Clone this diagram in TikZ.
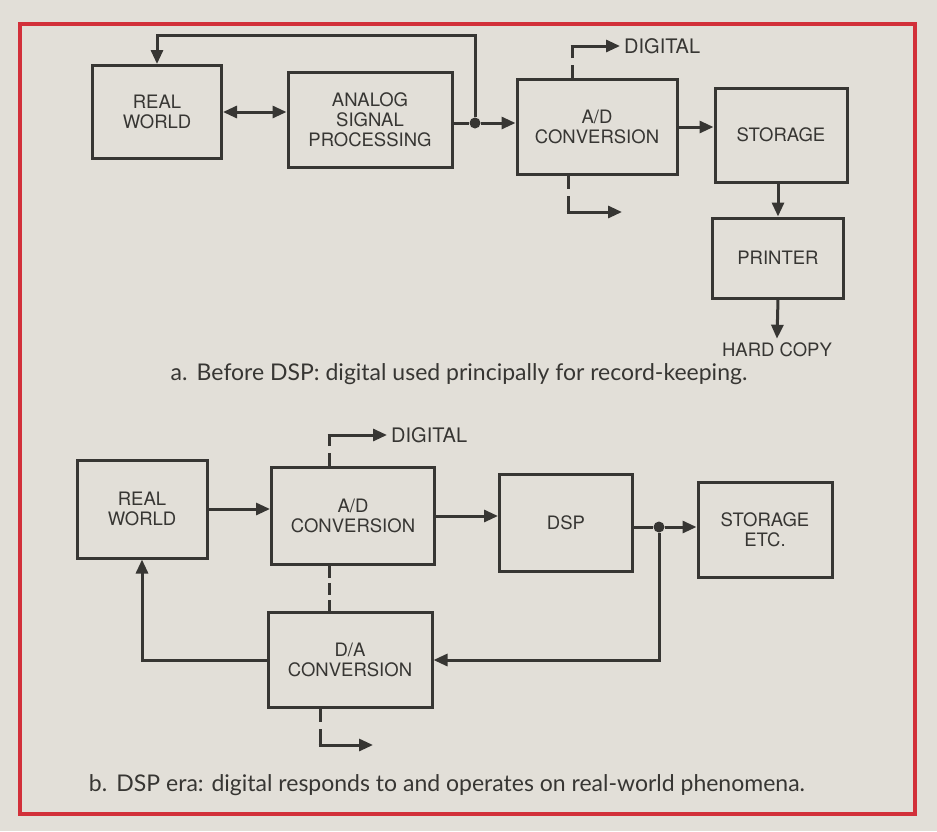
\documentclass[tikz,border=0pt]{standalone}
\usepackage{fontspec}
\setmainfont{TeX Gyre Heros}
\newfontfamily\capfont{Lato}
\usetikzlibrary{arrows.meta}
\definecolor{paper}{RGB}{226,223,216}
\definecolor{ink}{RGB}{55,54,51}
\definecolor{frame}{RGB}{210,48,58}
\tikzset{
    blk/.style={draw=ink, line width=3pt, text=ink, align=center, inner sep=0pt,
        font=\fontsize{18.5}{20}\selectfont},
    lbl/.style={text=ink, inner sep=4pt, font=\fontsize{18.5}{20}\selectfont},
    wire/.style={draw=ink, line width=3pt},
    arr/.style={wire, -{Triangle[length=14pt,width=12pt]}},
    brk/.style={wire, dash pattern=on 13pt off 7pt on 100pt off 1pt},
    link/.style={wire, dash pattern=on 12pt off 5pt},
    jdot/.style={circle, fill=ink, inner sep=0pt, minimum size=11pt},
    captxt/.style={text=ink, inner sep=0pt, font=\capfont\fontsize{23}{26}\selectfont}
}
\begin{document}
\begin{tikzpicture}[x=1pt, y=-1pt]
    \fill[paper] (0,0) rectangle (937,831);
    \useasboundingbox (0,0) rectangle (937,831);
    \draw[frame, line width=3.5pt] (20,24) rectangle (915,814);

    \node[blk, minimum width=129pt, minimum height=93pt] (world0) at (157,112) {REAL\\WORLD};
    \node[blk, minimum width=164pt, minimum height=95pt] (analog0) at (370,120) {ANALOG\\SIGNAL\\PROCESSING};
    \node[blk, minimum width=160pt, minimum height=95pt] (ad0) at (597,127) {A/D\\CONVERSION};
    \node[blk, minimum width=132pt, minimum height=94pt] (store0) at (781,135) {STORAGE};
    \node[blk, minimum width=131pt, minimum height=80pt] (print0) at (778,258) {PRINTER};
    \node[lbl] (copy0) at (777,350) {HARD COPY};
    \node[lbl, anchor=west, font=\fontsize{20}{22}\selectfont] (digit0) at (620,46) {DIGITAL};
    \node[jdot] (join0) at (475,123) {};
    \coordinate (up0) at (572,46);
    \coordinate (down0) at (568,212);
    \coordinate (out0) at (622,212);

    \draw[wire, {Triangle[length=14pt,width=12pt]}-{Triangle[length=14pt,width=12pt]}]
        (world0.east) -- (world0.east -| analog0.west);
    \draw[wire] (analog0.east |- join0) -- (join0);
    \draw[arr] (join0) -- (join0 -| ad0.west);
    \draw[arr] (join0) -- ++(0,-88) -| (world0.north);
    \draw[arr] (ad0.east) -- (ad0.east -| store0.west);
    \draw[arr] (store0.south -| print0.north) -- (print0.north);
    \draw[arr] (print0.south) -- (copy0.north);
    \draw[brk] (ad0.north -| up0) -- (up0);
    \draw[arr, shorten <=-1.5pt] (up0) -- (digit0.west);
    \draw[brk] (ad0.south -| down0) -- (down0);
    \draw[arr, shorten <=-1.5pt] (down0) -- (out0);

    \node[captxt, anchor=base] (title0) at (459,380)
        {a.\hspace{0.4em}Before DSP: digital used principally for record-keeping.};

    \node[blk, minimum width=130pt, minimum height=98pt] (world1) at (142,509) {REAL\\WORLD};
    \node[blk, minimum width=163pt, minimum height=97pt] (ad1) at (353,516) {A/D\\CONVERSION};
    \node[blk, minimum width=164pt, minimum height=95pt] (da1) at (350,660) {D/A\\CONVERSION};
    \node[blk, minimum width=133pt, minimum height=97pt] (dsp1) at (566,523) {DSP};
    \node[blk, minimum width=134pt, minimum height=95pt] (store1) at (765,530) {STORAGE\\ETC.};
    \node[lbl, anchor=west, font=\fontsize{20}{22}\selectfont] (digit1) at (387,435) {DIGITAL};
    \node[jdot] (join1) at (659,527) {};
    \coordinate (up1) at (329,435);
    \coordinate (down1) at (320,745);
    \coordinate (out1) at (373,745);

    \draw[arr] (world1.east) -- (world1.east -| ad1.west);
    \draw[arr] (ad1.east) -- (ad1.east -| dsp1.west);
    \draw[wire] (dsp1.east |- join1) -- (join1);
    \draw[arr] (join1) -- (join1 -| store1.west);
    \draw[arr] (join1) |- (da1.east);
    \draw[arr] (da1.west) -| (world1.south);
    \draw[brk] (ad1.north -| up1) -- (up1);
    \draw[arr, shorten <=-1.5pt] (up1) -- (digit1.west);
    \draw[link] (ad1.south -| up1) -- (da1.north -| up1);
    \draw[brk] (da1.south -| down1) -- (down1);
    \draw[arr, shorten <=-1.5pt] (down1) -- (out1);

    \node[captxt, anchor=base] (title1) at (447,791)
        {b.\hspace{0.4em}DSP era: digital responds to and operates on real-world phenomena.};
\end{tikzpicture}
\end{document}
